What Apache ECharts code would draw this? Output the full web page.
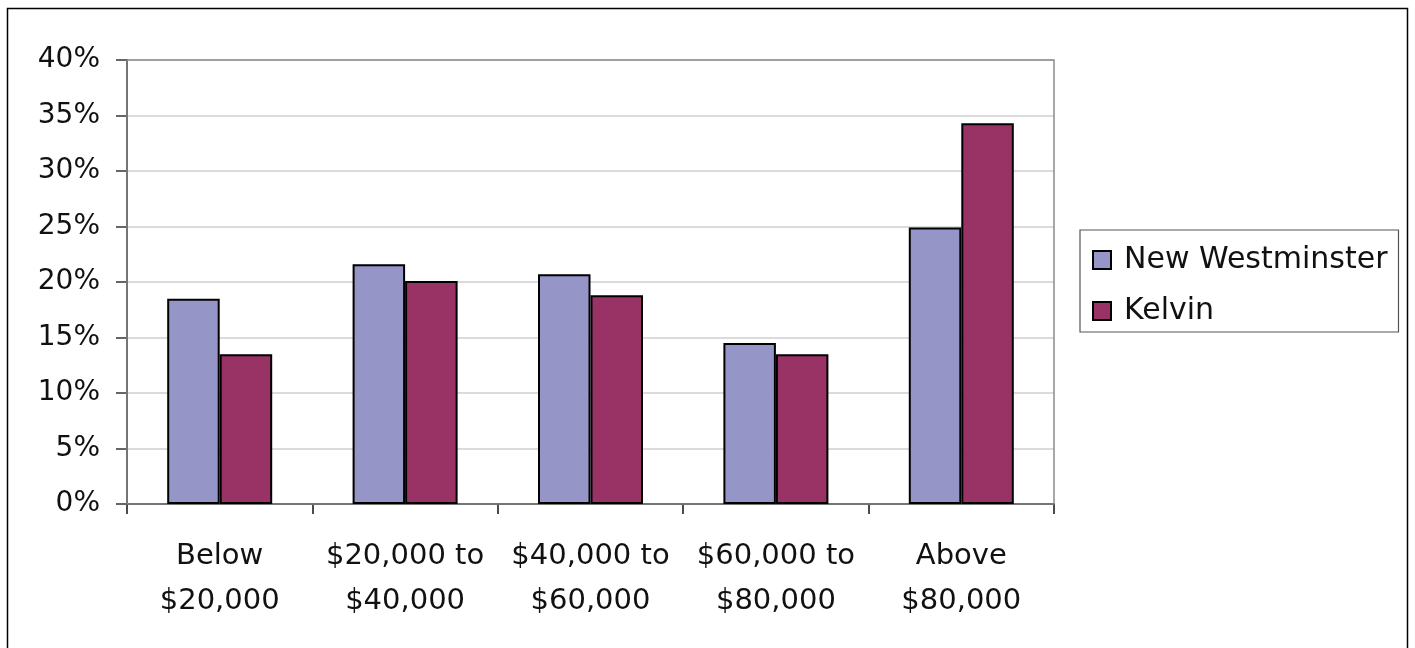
<!DOCTYPE html>
<html><head><meta charset="utf-8">
<script src="https://cdn.jsdelivr.net/npm/echarts@6/dist/echarts.min.js"></script>
<style>html,body{margin:0;padding:0;background:#fff}#c{width:1415px;height:648px}</style>
</head><body><div id="c"></div>
<script>
const categories = ['Below\n$20,000', '$20,000 to\n$40,000', '$40,000 to\n$60,000', '$60,000 to\n$80,000', 'Above\n$80,000'];
const newWestminster = [18.5, 21.6, 20.7, 14.5, 24.9];
const kelvin = [13.5, 20.1, 18.8, 13.5, 34.3];
const seriesNames = ['New Westminster', 'Kelvin'];
const yTicks = [0, 5, 10, 15, 20, 25, 30, 35, 40];

const FONT = '"DejaVu Sans", sans-serif';
const chart = echarts.init(document.getElementById('c'), null, {renderer: 'canvas'});
chart.setOption({
  animation: false,
  textStyle: {fontFamily: FONT},
  graphic: [{
    type: 'rect', shape: {x: 7.5, y: 8.5, width: 1400, height: 700},
    style: {fill: 'none', stroke: '#000', lineWidth: 1.5}, z: -1
  }, {
    type: 'rect', shape: {x: 127, y: 60, width: 927, height: 444},
    style: {fill: 'none', stroke: '#8c8c8c', lineWidth: 1.5}, z: 1
  }],
  grid: {left: 127, right: 361, top: 60, bottom: 144, containLabel: false},
  legend: {
    orient: 'vertical', left: 1080, top: 230,
    data: seriesNames,
    itemWidth: 18, itemHeight: 18, itemGap: 21,
    padding: [15, 11, 6, 12],
    borderColor: '#555', borderWidth: 1.2,
    icon: 'rect',
    textStyle: {fontSize: 30, lineHeight: 30, color: '#111', fontFamily: FONT, padding: [0, 0, 0, 8]}
  },
  xAxis: {
    type: 'category', data: categories,
    axisLine: {lineStyle: {color: '#333', width: 2}},
    axisTick: {show: true, length: 10, lineStyle: {color: '#111', width: 1.5}},
    axisLabel: {fontSize: 29, color: '#111', lineHeight: 45, margin: 30, interval: 0, fontFamily: FONT}
  },
  yAxis: {
    type: 'value', min: 0, max: 40, interval: 5,
    axisLine: {show: true, lineStyle: {color: '#333', width: 2}},
    axisTick: {show: true, length: 11, lineStyle: {color: '#333', width: 1.5}},
    splitLine: {lineStyle: {color: '#cfcfcf', width: 1.5}},
    axisLabel: {fontSize: 28, color: '#111', margin: 27, fontFamily: FONT, formatter: v => yTicks.includes(v) ? v + '%' : ''}
  },
  series: [{
    name: seriesNames[0], type: 'bar', data: newWestminster,
    barWidth: 52.5, barGap: '0%',
    itemStyle: {color: '#9595c8', borderColor: '#000', borderWidth: 2}
  }, {
    name: seriesNames[1], type: 'bar', data: kelvin,
    barWidth: 52.5, barGap: '0%',
    itemStyle: {color: '#993366', borderColor: '#000', borderWidth: 2}
  }]
});
</script></body></html>
